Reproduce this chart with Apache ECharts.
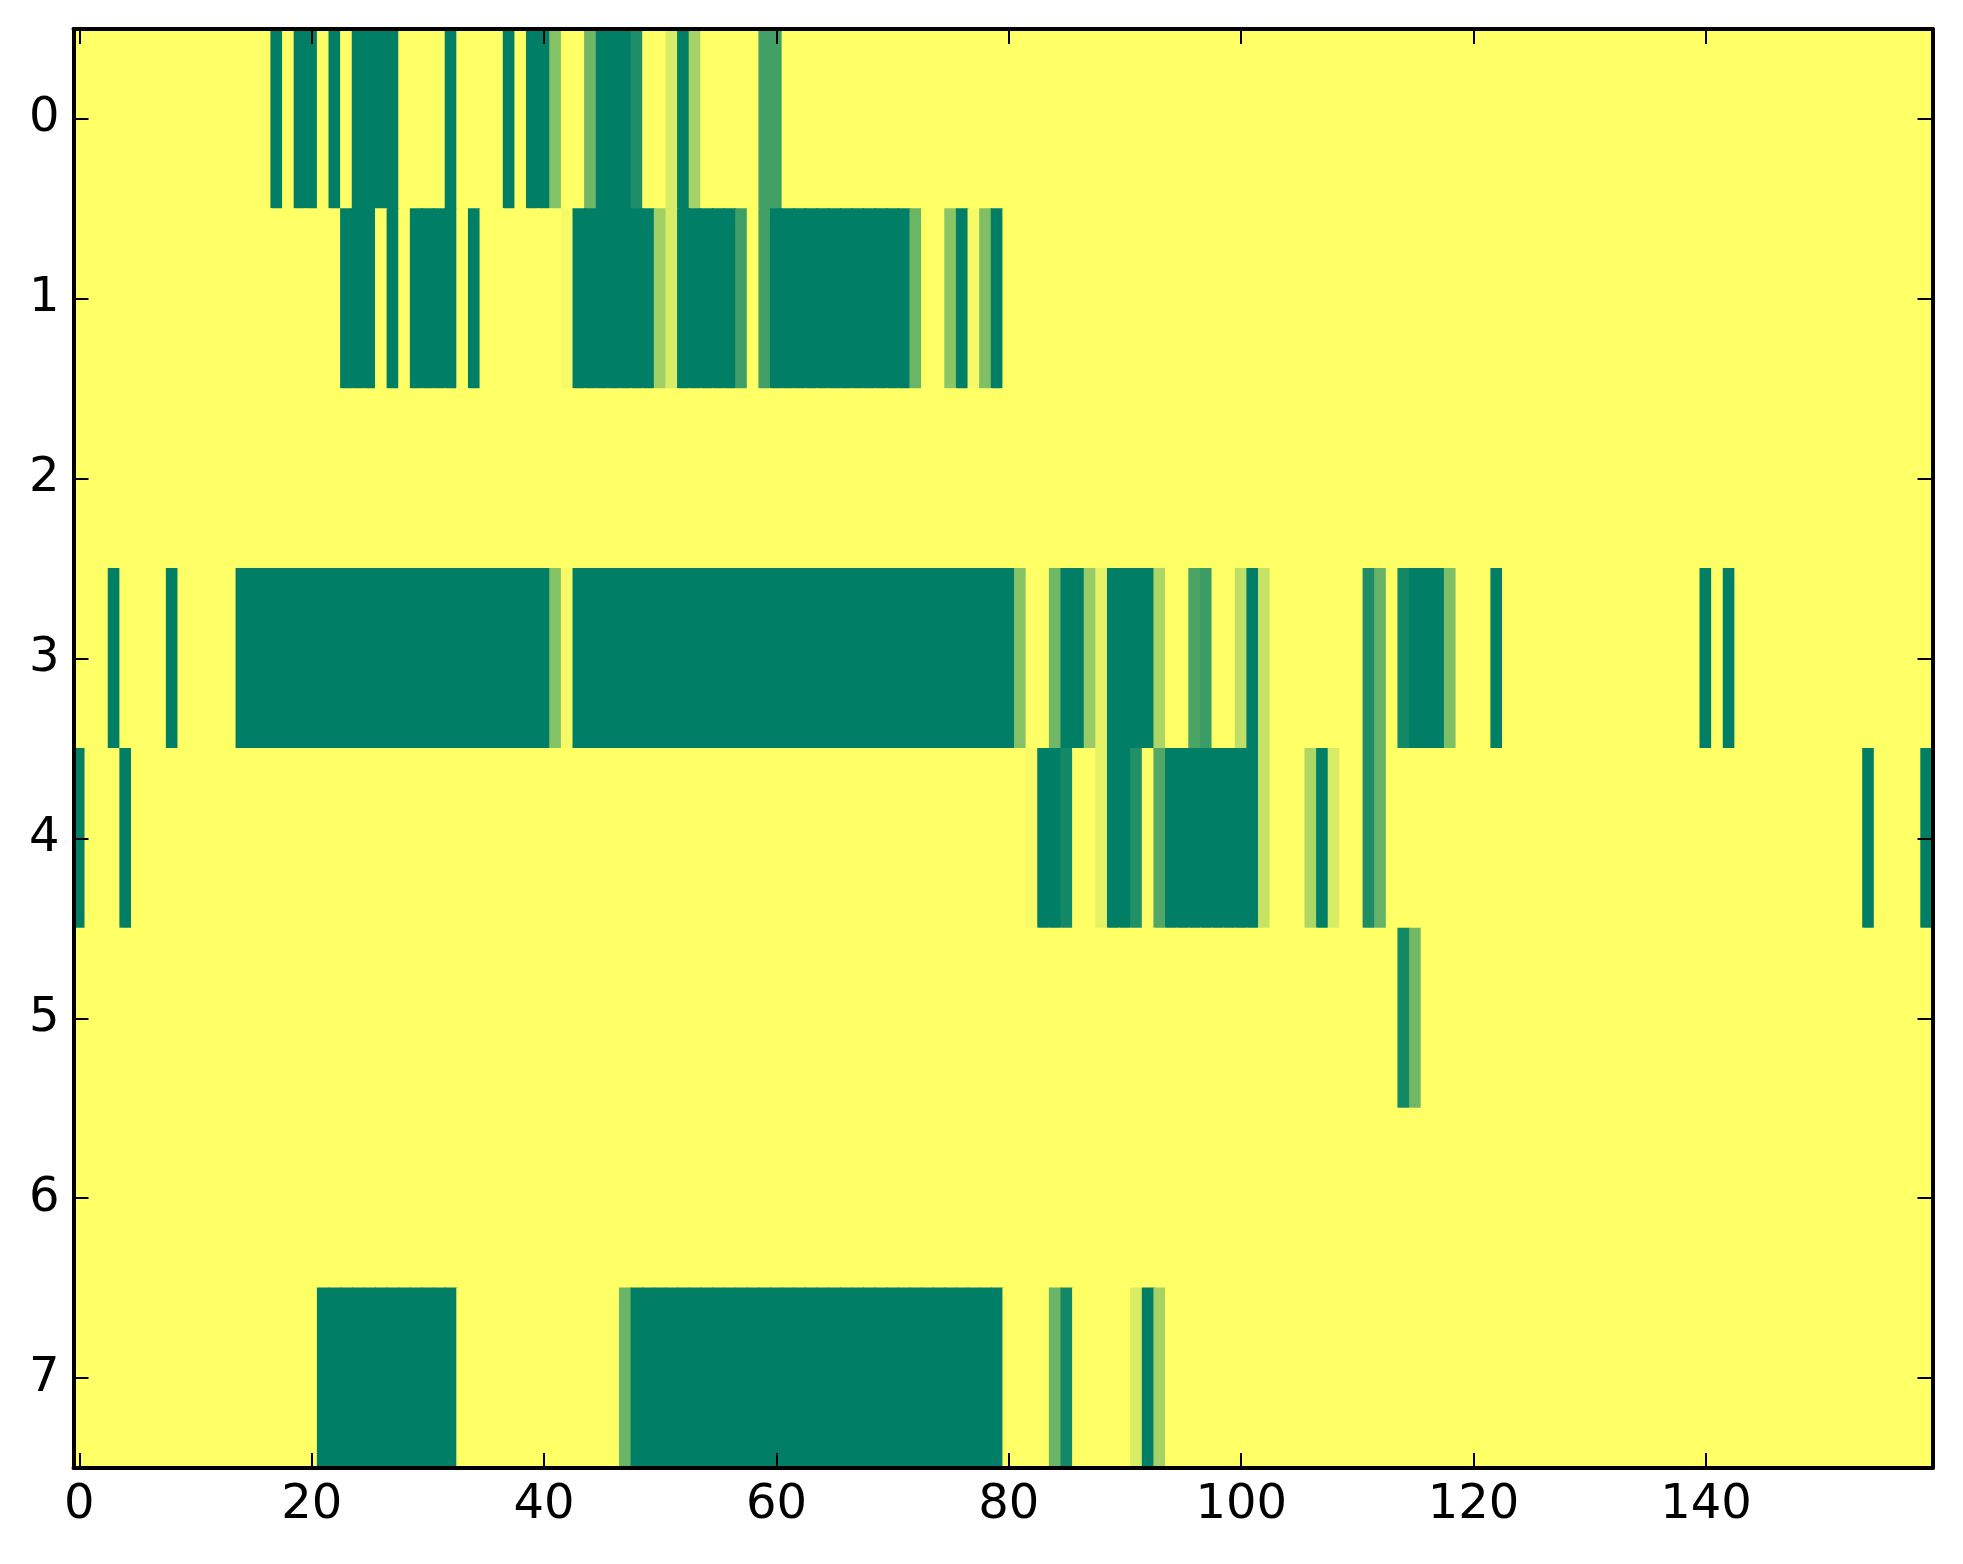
<!DOCTYPE html>
<html>
<head>
<meta charset="utf-8">
<script src="https://cdn.jsdelivr.net/npm/echarts@6/dist/echarts.min.js"></script>
<style>
html,body{margin:0;padding:0;background:#fff;}
#chart{width:1963px;height:1564px;}
</style>
</head>
<body>
<div id="chart"></div>
<script>
// number of columns / rows
var nCols = 160;
var rowLabels = ['0','1','2','3','4','5','6','7'];
var xTickLabels = ['0','20','40','60','80','100','120','140'];
// background value (yellow) for cells not listed
var baseValue = 1;
// runs of non-background cells per row: [startCol, endCol, value]
var row0 = [[17,17,0],[19,20,0],[22,22,0],[24,27,0],[32,32,0],[37,37,0],[39,40,0],[41,41,0.52],
            [44,44,0.44],[45,47,0],[48,48,0.12],[51,51,0.85],[52,52,0],[53,53,0.65],[59,60,0.26]];
var row1 = [[23,25,0],[27,27,0],[29,32,0],[34,34,0],[42,42,0.96],[43,49,0],[50,50,0.63],[51,51,0.85],
            [52,56,0],[57,57,0.24],[59,59,0.26],[60,71,0],[72,72,0.42],[75,75,0.55],[76,76,0],
            [77,77,0.96],[78,78,0.5],[79,79,0]];
var row2 = [];
var row3 = [[3,3,0],[8,8,0],[14,40,0],[41,41,0.52],[42,42,0.96],[43,80,0],[81,81,0.52],[84,84,0.44],
            [85,86,0],[87,87,0.6],[88,88,0.9],[89,92,0],[93,93,0.68],[96,96,0.29],[97,97,0.23],
            [100,100,0.75],[101,101,0],[102,102,0.78],[111,111,0.12],[112,112,0.4],[114,114,0.07],
            [115,117,0],[118,118,0.49],[122,122,0],[140,140,0],[142,142,0]];
var row4 = [[0,0,0],[4,4,0],[82,82,0.96],[83,84,0],[85,85,0.07],[88,88,0.9],[89,90,0],[91,91,0.13],
            [93,93,0.32],[94,101,0],[102,102,0.78],[106,106,0.68],[107,107,0],[108,108,0.85],
            [111,111,0.12],[112,112,0.4],[154,154,0],[159,159,0]];
var row5 = [[114,114,0.07],[115,115,0.44]];
var row6 = [];
var row7 = [[21,32,0],[47,47,0.42],[48,79,0],[84,84,0.42],[85,85,0.07],[91,91,0.85],[92,92,0],[93,93,0.65]];
var rows = [row0,row1,row2,row3,row4,row5,row6,row7];

var cols = [];
for (var i = 0; i < nCols; i++) cols.push(String(i));

var data = [];
rows.forEach(function(runs, r){
  var vals = [];
  for (var c = 0; c < nCols; c++) vals.push(baseValue);
  runs.forEach(function(run){
    for (var c = run[0]; c <= run[1]; c++) vals[c] = run[2];
  });
  for (var c = 0; c < nCols; c++) data.push([c, r, vals[c]]);
});

function isTick(idx){ return xTickLabels.indexOf(String(idx)) >= 0; }

var lineStyle = {color:'#000', width:4};
var tickStyle = {color:'#000', width:2};
var font = {fontSize:48, color:'#000', fontFamily:'DejaVu Sans'};

function renderCell(params, api){
  var p = api.coord([api.value(0), api.value(1)]);
  var s = api.size([1, 1]);
  var pad = 0.6;
  return {
    type:'rect',
    shape:{x:p[0]-s[0]/2-pad, y:p[1]-s[1]/2-pad, width:s[0]+2*pad, height:s[1]+2*pad},
    style:{fill:api.visual('color')},
    clipPath:null
  };
}

var chart = echarts.init(document.getElementById('chart'));
chart.setOption({
  animation:false,
  backgroundColor:'#fff',
  grid:{left:73.5, right:30.5, top:29, bottom:96, containLabel:false},
  visualMap:{show:false, min:0, max:1, dimension:2, seriesIndex:0, inRange:{color:['#007f66','#ffff66']}},
  xAxis:[
    {type:'category', data:cols, position:'bottom', z:10,
     axisLine:{show:true, lineStyle:lineStyle},
     axisTick:{show:true, inside:true, length:15, alignWithLabel:true, interval:function(i){return isTick(i);}, lineStyle:tickStyle},
     axisLabel:Object.assign({interval:function(i){return isTick(i);}, margin:14}, font),
     splitLine:{show:false}},
    {type:'category', data:cols, position:'top', z:10,
     axisLine:{show:true, lineStyle:lineStyle},
     axisTick:{show:true, inside:true, length:15, alignWithLabel:true, interval:function(i){return isTick(i);}, lineStyle:tickStyle},
     axisLabel:{show:false}, splitLine:{show:false}}
  ],
  yAxis:[
    {type:'category', data:rowLabels, inverse:true, position:'left', z:10,
     axisLine:{show:true, lineStyle:lineStyle},
     axisTick:{show:true, inside:true, length:15, alignWithLabel:true, lineStyle:tickStyle},
     axisLabel:Object.assign({margin:14}, font),
     splitLine:{show:false}},
    {type:'category', data:rowLabels, inverse:true, position:'right', z:10,
     axisLine:{show:true, lineStyle:lineStyle},
     axisTick:{show:true, inside:true, length:15, alignWithLabel:true, lineStyle:tickStyle},
     axisLabel:{show:false}, splitLine:{show:false}}
  ],
  series:[{
    type:'custom', xAxisIndex:0, yAxisIndex:0, data:data,
    renderItem:renderCell, clip:true, progressive:0,
    encode:{x:0, y:1}, emphasis:{disabled:true}
  }]
});
</script>
</body>
</html>
